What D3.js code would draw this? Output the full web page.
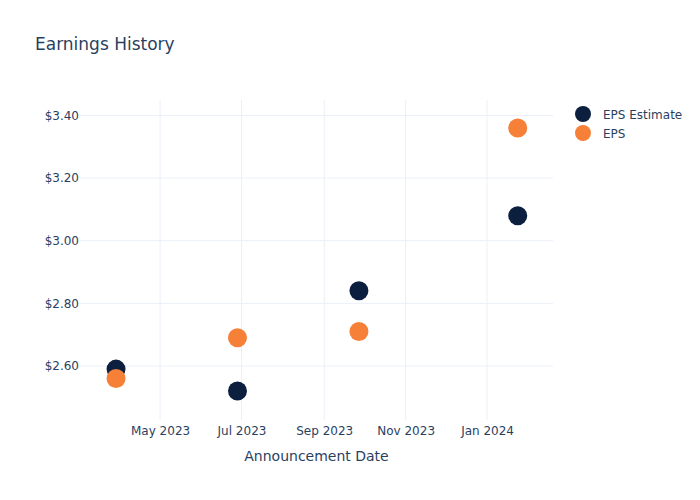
<!DOCTYPE html>
<html>
<head>
<meta charset="utf-8">
<script src="https://cdn.jsdelivr.net/npm/d3@7"></script>
<style>
  body { margin: 0; background: #fff; }
  svg { font-family: "DejaVu Sans", "Open Sans", sans-serif; }
</style>
</head>
<body>
<svg id="chart" width="700" height="500"></svg>
<script>
const dates = ["2023-03-29", "2023-06-28", "2023-09-27", "2024-01-24"];
const epsEstimate = [2.59, 2.52, 2.84, 3.08];
const eps = [2.56, 2.69, 2.71, 3.36];
const yTicks = [2.6, 2.8, 3.0, 3.2, 3.4];
const xTicks = ["2023-05-01", "2023-07-01", "2023-09-01", "2023-11-01", "2024-01-01"];
const seriesNames = ["EPS Estimate", "EPS"];
const seriesColors = ["#0c1f3f", "#f68038"];

const parse = d3.utcParse("%Y-%m-%d");
const svg = d3.select("#chart");
const m = { left: 80, right: 553, top: 100, bottom: 420 };

const x = d3.scaleUtc()
  .domain([parse("2023-03-02"), new Date(Date.UTC(2024, 1, 19, 10))])
  .range([m.left, m.right]);
const y = d3.scaleLinear()
  .domain([2.4275, 3.4495])
  .range([m.bottom, m.top]);

const textColor = "#2a3f5f";
const gridColor = "#ebf0f8";

// grid
svg.append("g").selectAll("line").data(yTicks).join("line")
  .attr("x1", m.left).attr("x2", m.right)
  .attr("y1", d => y(d)).attr("y2", d => y(d))
  .attr("stroke", gridColor).attr("stroke-width", 1);
svg.append("g").selectAll("line").data(xTicks).join("line")
  .attr("x1", d => x(parse(d))).attr("x2", d => x(parse(d)))
  .attr("y1", m.top).attr("y2", m.bottom)
  .attr("stroke", gridColor).attr("stroke-width", 1);

// y axis
const yAxis = d3.axisLeft(y).tickValues(yTicks).tickSize(0).tickPadding(0)
  .tickFormat(d => "$" + d3.format(".2f")(d));
const gy = svg.append("g").attr("transform", `translate(${m.left - 1},0)`).call(yAxis);
gy.select(".domain").remove();
gy.selectAll("text").attr("fill", textColor).attr("font-size", 12).attr("font-family", "DejaVu Sans, sans-serif");

// x axis
const xAxis = d3.axisBottom(x).tickValues(xTicks.map(parse)).tickSize(0).tickPadding(0)
  .tickFormat(d3.utcFormat("%b %Y"));
const gx = svg.append("g").attr("transform", `translate(0,${m.bottom + 6})`).call(xAxis);
gx.select(".domain").remove();
gx.selectAll("text").attr("fill", textColor).attr("font-size", 12).attr("font-family", "DejaVu Sans, sans-serif");

// axis title
svg.append("text").attr("x", (m.left + m.right) / 2).attr("y", 461)
  .attr("text-anchor", "middle").attr("fill", textColor).attr("font-size", 14)
  .text("Announcement Date");

// title
svg.append("text").attr("x", 35).attr("y", 50)
  .attr("fill", textColor).attr("font-size", 17)
  .text("Earnings History");

// points
const series = [epsEstimate, eps];
series.forEach((vals, i) => {
  svg.append("g").selectAll("circle").data(vals).join("circle")
    .attr("cx", (d, j) => x(parse(dates[j])))
    .attr("cy", d => y(d))
    .attr("r", 9.5)
    .attr("fill", seriesColors[i]);
});

// legend
const lg = svg.append("g");
seriesNames.forEach((name, i) => {
  const yy = 114 + i * 19;
  lg.append("circle").attr("cx", 583).attr("cy", yy).attr("r", 8).attr("fill", seriesColors[i]);
  lg.append("text").attr("x", 603).attr("y", yy + 4.5).attr("fill", textColor)
    .attr("font-size", 12).text(name);
});
</script>
</body>
</html>
